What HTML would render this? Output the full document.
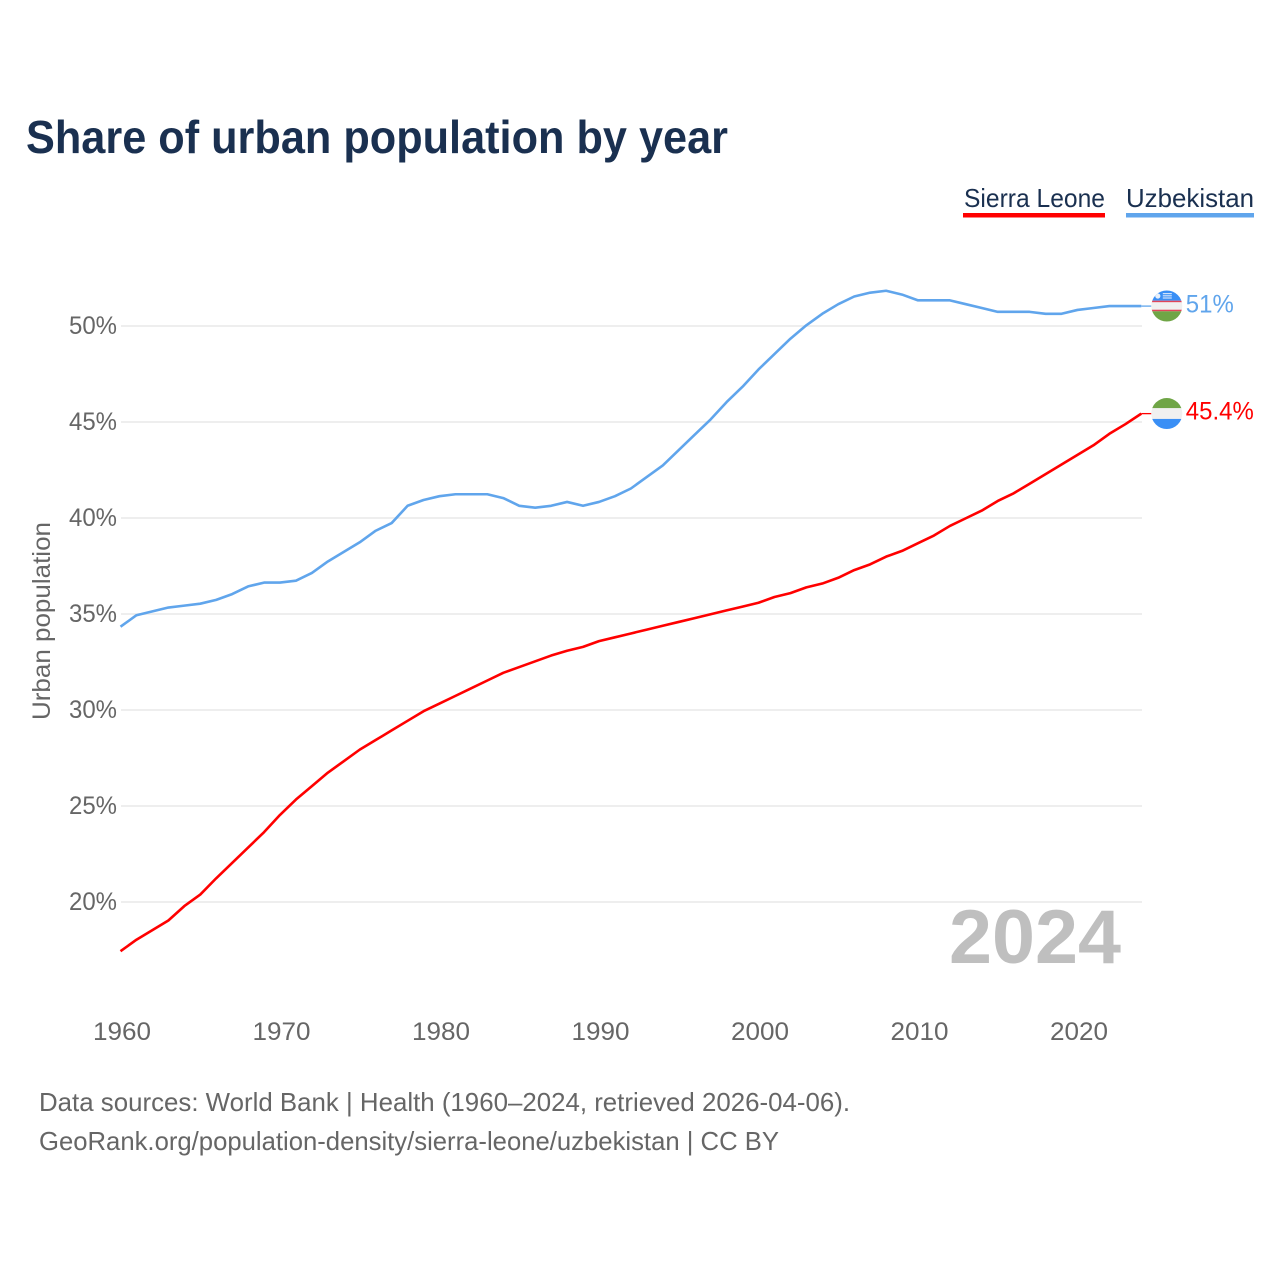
<!DOCTYPE html>
<html lang="en">
<head>
<meta charset="utf-8">
<title>Share of urban population by year</title>
<style>
  html, body { margin: 0; padding: 0; background: #fff; }
  svg { display: block; font-family: "Liberation Sans", sans-serif; }
</style>
</head>
<body>
<svg id="chart" xmlns="http://www.w3.org/2000/svg" width="1280" height="1280" viewBox="0 0 1280 1280">
  <rect x="0" y="0" width="1280" height="1280" fill="#ffffff"/>
  <text x="26" y="153" font-size="46" font-weight="700" fill="#1a3050" textLength="702" lengthAdjust="spacingAndGlyphs">Share of urban population by year</text>

  <g>
    <text x="964" y="207" font-size="26" fill="#1a3050" textLength="141" lengthAdjust="spacingAndGlyphs">Sierra Leone</text>
    <rect x="963" y="213" width="142" height="4.5" fill="#ff0000"/>
  </g>
  <g>
    <text x="1126" y="207" font-size="26" fill="#1a3050" textLength="128" lengthAdjust="spacingAndGlyphs">Uzbekistan</text>
    <rect x="1126" y="213" width="128" height="4.5" fill="#60a5ec"/>
  </g>

  <g id="grid"></g>
  <g id="y-ticks"></g>
  <g id="x-ticks"></g>
  <text transform="translate(50,720) rotate(-90)" x="0" y="0" font-size="25" fill="#666666" textLength="198" lengthAdjust="spacingAndGlyphs">Urban population</text>

  <text x="1121" y="963" font-size="76" font-weight="700" fill="#bfbfbf" text-anchor="end" textLength="172" lengthAdjust="spacingAndGlyphs">2024</text>

  <g id="series" transform="translate(-0.5,-0.7)"></g>

  <defs>
    <clipPath id="flag-clip"><circle cx="0" cy="0" r="15.5"/></clipPath>
  </defs>
  <g id="flag-uz">
    <g clip-path="url(#flag-clip)">
      <rect x="-16" y="-16" width="32" height="10.7" fill="#3a8ff5"/>
      <rect x="-16" y="-5.3" width="32" height="1.6" fill="#e0455a"/>
      <rect x="-16" y="-3.7" width="32" height="7.4" fill="#f0f0f0"/>
      <rect x="-16" y="3.7" width="32" height="1.6" fill="#e0455a"/>
      <rect x="-16" y="5.3" width="32" height="10.7" fill="#6fa546"/>
      <circle cx="-9" cy="-10" r="2.6" fill="#e8f0fa"/>
      <rect x="-4" y="-13" width="9" height="1.2" fill="#cfe2fa"/>
      <rect x="-4" y="-10.8" width="9" height="1.2" fill="#cfe2fa"/>
      <rect x="-4" y="-8.6" width="9" height="1.2" fill="#cfe2fa"/>
    </g>
  </g>
  <g id="flag-sl">
    <g clip-path="url(#flag-clip)">
      <rect x="-16" y="-16" width="32" height="10.7" fill="#6fa546"/>
      <rect x="-16" y="-5.3" width="32" height="10.7" fill="#f0f0f0"/>
      <rect x="-16" y="5.4" width="32" height="10.7" fill="#3a8ff5"/>
    </g>
  </g>

  <text x="39" y="1111" font-size="26" fill="#666666" textLength="811" lengthAdjust="spacingAndGlyphs">Data sources: World Bank | Health (1960–2024, retrieved 2026-04-06).</text>
  <text x="39" y="1150" font-size="26" fill="#666666" textLength="740" lengthAdjust="spacingAndGlyphs">GeoRank.org/population-density/sierra-leone/uzbekistan | CC BY</text>
</svg>
<script>
const firstYear = 1960;
const uzbekistanValues = [34.3,34.9,35.1,35.3,35.4,35.5,35.7,36.0,36.4,36.6,36.6,36.7,37.1,37.7,38.2,38.7,39.3,39.7,40.6,40.9,41.1,41.2,41.2,41.2,41.0,40.6,40.5,40.6,40.8,40.6,40.8,41.1,41.5,42.1,42.7,43.5,44.3,45.1,46.0,46.8,47.7,48.5,49.3,50.0,50.6,51.1,51.5,51.7,51.8,51.6,51.3,51.3,51.3,51.1,50.9,50.7,50.7,50.7,50.6,50.6,50.8,50.9,51.0,51.0,51.0];
const sierraLeoneValues = [17.4,18.0,18.5,19.0,19.75,20.35,21.2,22.0,22.8,23.6,24.5,25.3,26.0,26.7,27.3,27.9,28.4,28.9,29.4,29.9,30.3,30.7,31.1,31.5,31.9,32.2,32.5,32.8,33.05,33.25,33.55,33.75,33.95,34.15,34.35,34.55,34.75,34.95,35.15,35.35,35.55,35.85,36.05,36.35,36.55,36.85,37.25,37.55,37.95,38.25,38.65,39.05,39.55,39.95,40.35,40.85,41.25,41.75,42.25,42.75,43.25,43.75,44.35,44.85,45.4];
const yTickValues = [20,25,30,35,40,45,50];
const xTickYears = [1960,1970,1980,1990,2000,2010,2020];
const uzbekistanLabel = "51%";
const sierraLeoneLabel = "45.4%";

const SVG_NS = "http://www.w3.org/2000/svg";
const xScale = function (year) { return 121 + (year - 1960) * 15.95; };
const yScale = function (value) { return 326 + (50 - value) * 19.2; };

function makeSvg(tag, attrs) {
  const el = document.createElementNS(SVG_NS, tag);
  for (const key in attrs) { el.setAttribute(key, attrs[key]); }
  return el;
}

const gridGroup = document.getElementById("grid");
const yTickGroup = document.getElementById("y-ticks");
const xTickGroup = document.getElementById("x-ticks");
const seriesGroup = document.getElementById("series");
const chartSvg = document.getElementById("chart");

yTickValues.forEach(function (v) {
  const line = makeSvg("line", { x1: 121, x2: 1142, y1: yScale(v), y2: yScale(v), stroke: "#eeeeee", "stroke-width": 2 });
  
  
  gridGroup.appendChild(line);

  const label = makeSvg("text", { x: 117, y: yScale(v) + 8, "font-size": 25, fill: "#666666", "text-anchor": "end", textLength: 48, lengthAdjust: "spacingAndGlyphs" });
  
  
  label.textContent = v + "%";
  yTickGroup.appendChild(label);
});

xTickYears.forEach(function (year) {
  const label = makeSvg("text", { x: xScale(year) + 1, y: 1040, "font-size": 25, fill: "#666666", "text-anchor": "middle", textLength: 58, lengthAdjust: "spacingAndGlyphs" });
  
  
  label.textContent = year;
  xTickGroup.appendChild(label);
});

function pointsFor(values) {
  return values.map(function (v, i) {
    return xScale(firstYear + i).toFixed(2) + "," + yScale(v).toFixed(2);
  }).join(" ");
}

const uzLine = makeSvg("polyline", { points: pointsFor(uzbekistanValues), fill: "none", stroke: "#60a5ec", "stroke-width": 2.6, "stroke-linejoin": "round" });


seriesGroup.appendChild(uzLine);

const slLine = makeSvg("polyline", { points: pointsFor(sierraLeoneValues), fill: "none", stroke: "#ff0000", "stroke-width": 2.6, "stroke-linejoin": "round" });


seriesGroup.appendChild(slLine);

const lastYear = firstYear + uzbekistanValues.length - 1;
const endX = xScale(lastYear);
const uzEndY = yScale(uzbekistanValues[uzbekistanValues.length - 1]);
const slEndY = yScale(sierraLeoneValues[sierraLeoneValues.length - 1]);

const uzConnector = makeSvg("line", { x1: endX, x2: endX + 10, y1: uzEndY, y2: uzEndY, stroke: "#60a5ec", "stroke-width": 1.3 });


seriesGroup.appendChild(uzConnector);

const slConnector = makeSvg("line", { x1: endX, x2: endX + 10, y1: slEndY, y2: slEndY, stroke: "#ff0000", "stroke-width": 1.3 });


seriesGroup.appendChild(slConnector);

document.getElementById("flag-uz").setAttribute("transform", "translate(" + (endX + 25) + "," + (uzEndY - 0.8) + ")");
document.getElementById("flag-sl").setAttribute("transform", "translate(" + (endX + 25) + "," + (slEndY - 0.8) + ")");

const uzEndLabel = makeSvg("text", { x: endX + 44, y: uzEndY + 5.5, "font-size": 25, fill: "#60a5ec", textLength: 48, lengthAdjust: "spacingAndGlyphs" });


uzEndLabel.textContent = uzbekistanLabel;
chartSvg.appendChild(uzEndLabel);

const slEndLabel = makeSvg("text", { x: endX + 44, y: slEndY + 5, "font-size": 25, fill: "#ff0000", textLength: 68, lengthAdjust: "spacingAndGlyphs" });


slEndLabel.textContent = sierraLeoneLabel;
chartSvg.appendChild(slEndLabel);
</script>
</body>
</html>
